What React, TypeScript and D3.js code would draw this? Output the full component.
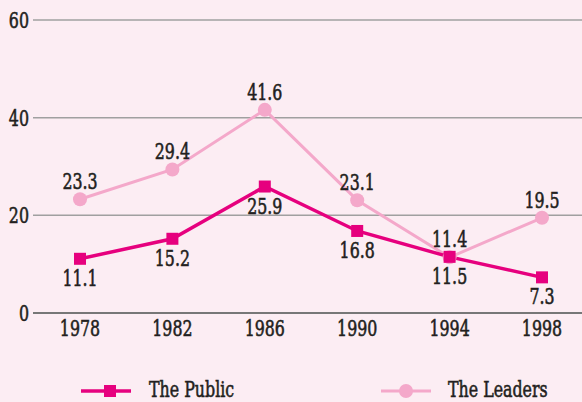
import React, { useEffect, useRef } from "react";
import * as d3 from "d3";

const years = ["1978", "1982", "1986", "1990", "1994", "1998"];
const publicValues = [11.1, 15.2, 25.9, 16.8, 11.5, 7.3];
const leadersValues = [23.3, 29.4, 41.6, 23.1, 11.4, 19.5];
const yTicks = [0, 20, 40, 60];
const publicLabelPos = ["below", "below", "below", "below", "below", "below"];
const leadersLabelPos = ["above", "above", "above", "above", "above", "above"];

const W = 582;
const H = 402;
const PUB = "#e6007e";
const LEAD = "#f4a8ca";
const BG = "#fcedf3";
const FONT = "'DejaVu Serif', 'Liberation Serif', serif";
const SX = 0.72;

export default function App() {
  const ref = useRef<SVGSVGElement>(null);
  useEffect(() => {
    const svg = d3.select(ref.current);
    svg.selectAll("*").remove();
    svg.append("rect").attr("width", W).attr("height", H).attr("fill", BG);

    const x = d3.scalePoint<string>().domain(years).range([80, 542]);
    const y = d3.scaleLinear().domain([0, 60]).range([313, 20]);

    const txt = (g: any, tx: number, ty: number, s: string, anchor: string, size = 22) =>
      g
        .append("text")
        .attr("transform", `translate(${tx},${ty}) scale(${SX},1)`)
        .attr("text-anchor", anchor)
        .attr("font-family", FONT)
        .attr("font-weight", "normal")
        .attr("font-size", size)
        .attr("fill", "#231f20")
        .attr("stroke", "#231f20")
        .attr("stroke-width", 0.6)
        .text(s);

    yTicks.forEach((t) => {
      svg
        .append("line")
        .attr("x1", 33)
        .attr("x2", W)
        .attr("y1", y(t))
        .attr("y2", y(t))
        .attr("stroke", t === 0 ? "#777" : "#a0a0a0")
        .attr("stroke-width", t === 0 ? 2 : 1.5);
      txt(svg, 29, y(t) + 8, String(t), "end");
    });

    years.forEach((yr) => txt(svg, x(yr)!, 336, yr, "middle"));

    const line = d3
      .line<number>()
      .x((_, i) => x(years[i])!)
      .y((d) => y(d));

    svg
      .append("path")
      .attr("d", line(leadersValues))
      .attr("fill", "none")
      .attr("stroke", LEAD)
      .attr("stroke-width", 3);
    svg
      .append("path")
      .attr("d", line(publicValues))
      .attr("fill", "none")
      .attr("stroke", PUB)
      .attr("stroke-width", 3.5);

    leadersValues.forEach((v, i) => {
      svg.append("circle").attr("cx", x(years[i])!).attr("cy", y(v)).attr("r", 7).attr("fill", LEAD);
    });
    publicValues.forEach((v, i) => {
      svg
        .append("rect")
        .attr("x", x(years[i])! - 6)
        .attr("y", y(v) - 6)
        .attr("width", 12)
        .attr("height", 12)
        .attr("fill", PUB);
    });

    leadersValues.forEach((v, i) => {
      const dy = leadersLabelPos[i] === "above" ? -10 : 27;
      txt(svg, x(years[i])!, y(v) + dy, v.toFixed(1), "middle");
    });
    publicValues.forEach((v, i) => {
      const dy = publicLabelPos[i] === "above" ? -10 : 27;
      txt(svg, x(years[i])!, y(v) + dy, v.toFixed(1), "middle");
    });

    // legend
    const ly = 391;
    svg.append("line").attr("x1", 81).attr("x2", 131).attr("y1", ly).attr("y2", ly).attr("stroke", PUB).attr("stroke-width", 3.5);
    svg.append("rect").attr("x", 104).attr("y", ly - 6).attr("width", 12).attr("height", 12).attr("fill", PUB);
    txt(svg, 149, ly + 6, "The Public", "start");

    svg.append("line").attr("x1", 381).attr("x2", 431).attr("y1", ly).attr("y2", ly).attr("stroke", LEAD).attr("stroke-width", 3);
    svg.append("circle").attr("cx", 406).attr("cy", ly).attr("r", 7).attr("fill", LEAD);
    txt(svg, 448, ly + 6, "The Leaders", "start");
  }, []);

  return (
    <svg
      ref={ref}
      width={W}
      height={H}
      style={{ position: "absolute", left: 0, top: 0, display: "block" }}
    />
  );
}
